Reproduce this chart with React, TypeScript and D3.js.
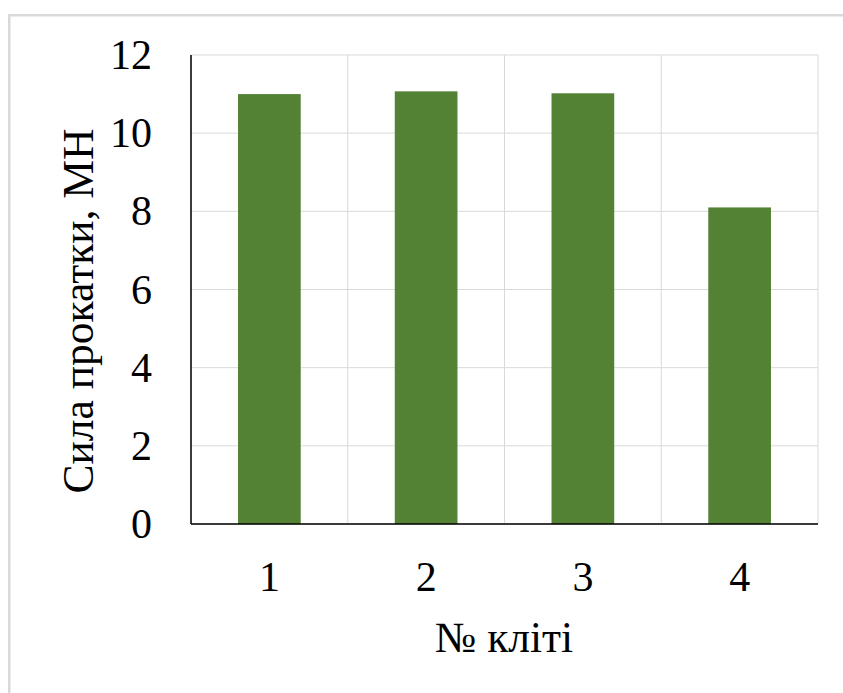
import React from "react";
import * as d3 from "d3";

const categories = ["1", "2", "3", "4"];
const values = [11.0, 11.07, 11.02, 8.1];
const yTicks = [0, 2, 4, 6, 8, 10, 12];
const yTitle = "Сила прокатки, МН";
const xTitle = "№ кліті";

export default function App() {
  const W = 843, H = 693;
  const left = 191, right = 818, top = 55, bottom = 524;
  const x = d3.scaleBand<string>().domain(categories).range([left, right]).paddingInner(0).paddingOuter(0);
  const y = d3.scaleLinear().domain([0, 12]).range([bottom, top]);
  const bw = x.bandwidth() / 2.5;
  const font = "'Liberation Serif', 'Times New Roman', serif";
  const bounds = [...categories.map((c) => x(c)!), right];
  return (
    <svg width={W} height={H} style={{ position: "absolute", left: 0, top: 0 }} fontFamily={font}>
      <rect x={0} y={0} width={W} height={H} fill="#fff" />
      <rect x={9.25} y={15.25} width={W + 20} height={H + 20} fill="none" stroke="#d9d9d9" strokeWidth={2.5} />
      {yTicks.map((t) => (
        <line key={"h" + t} x1={left} x2={right} y1={y(t)} y2={y(t)} stroke="#d9d9d9" strokeWidth={1} />
      ))}
      {bounds.map((b, i) => (
        <line key={"v" + i} x1={b} x2={b} y1={top} y2={bottom} stroke="#d9d9d9" strokeWidth={1} />
      ))}
      {categories.map((c, i) => (
        <rect key={c} x={x(c)! + (x.bandwidth() - bw) / 2} y={y(values[i])} width={bw} height={bottom - y(values[i])} fill="#548235" />
      ))}
      <line x1={left} x2={left} y1={top} y2={bottom} stroke="#000" strokeWidth={1.5} />
      <line x1={left} x2={right} y1={bottom} y2={bottom} stroke="#000" strokeWidth={1.5} />
      {yTicks.map((t) => (
        <text key={"yl" + t} x={152} y={y(t) + 14} textAnchor="end" fontSize={42} fill="#000">
          {t}
        </text>
      ))}
      {categories.map((c) => (
        <text key={"xl" + c} x={x(c)! + x.bandwidth() / 2} y={591} textAnchor="middle" fontSize={42} fill="#000">
          {c}
        </text>
      ))}
      <text transform={`translate(93,311) rotate(-90)`} textAnchor="middle" fontSize={43.5} fill="#000">
        {yTitle}
      </text>
      <text x={504} y={652} textAnchor="middle" fontSize={43.5} fill="#000">
        {xTitle}
      </text>
    </svg>
  );
}
